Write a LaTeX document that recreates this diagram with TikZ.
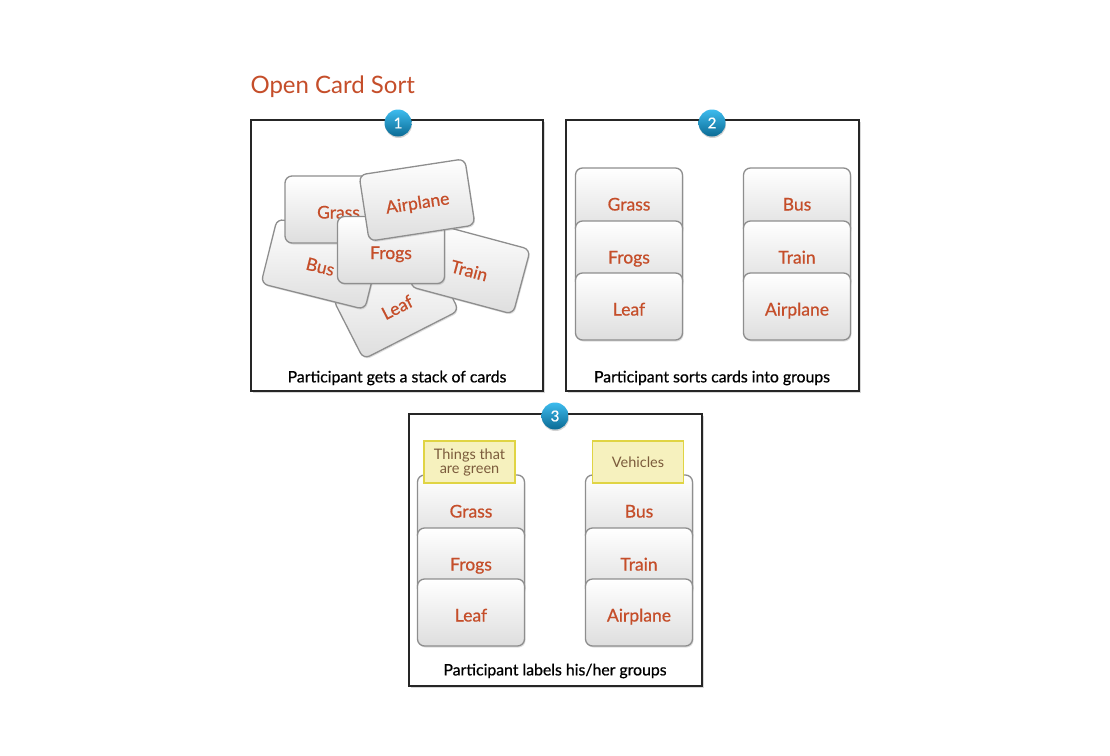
\documentclass[tikz,border=0pt]{standalone}
\usepackage{fontspec}
\setmainfont{Lato}
\newfontfamily\cardfont{Lato}[FakeBold=0.7]
\usetikzlibrary{shadows}
\definecolor{cardred}{HTML}{C54E2A}
\definecolor{cardline}{HTML}{8E8E8E}
\definecolor{notefill}{HTML}{F6F1BE}
\definecolor{noteline}{HTML}{E0D444}
\definecolor{notetext}{HTML}{7B5B3C}
\definecolor{badgetop}{HTML}{3DBBEE}
\definecolor{badgebottom}{HTML}{0B6A94}

\begin{document}
\begin{tikzpicture}[x=1pt,y=-1pt,
    card/.style={rectangle,rounded corners=7pt,draw=cardline,line width=1.3pt,
      top color=white,bottom color=black!13,minimum width=107pt,minimum height=67pt,
      text height=18pt,text depth=0pt,
      text=cardred,font=\cardfont\fontsize{17.5}{20}\selectfont,
      drop shadow={opacity=0.25,shadow xshift=1pt,shadow yshift=-1.5pt}},
    panel/.style={rectangle,draw=black!85,line width=1.6pt,fill=white,
      drop shadow={opacity=0.3,shadow xshift=1.5pt,shadow yshift=-1.5pt}},
    badge/.style={circle,top color=badgetop,bottom color=badgebottom,minimum size=27pt,inner sep=0pt,
      text=white,font=\cardfont\fontsize{15}{17}\selectfont,
      drop shadow={opacity=0.35,shadow xshift=0.5pt,shadow yshift=-1.5pt}},
    caption/.style={font=\cardfont\fontsize{15.8}{18}\selectfont},
    note/.style={rectangle,draw=noteline,fill=notefill,line width=1.2pt,minimum width=91pt,
      minimum height=42pt,inner sep=2pt,text=notetext,align=center,
      font=\fontsize{14.5}{14}\selectfont}]
    \useasboundingbox[fill=white] (0,0) rectangle (1110,755);

    \node[anchor=west,text=cardred,font=\fontsize{24}{28}\selectfont] (title) at (247,87) {Open Card Sort};

    \node[panel,minimum width=292pt,minimum height=271pt] (stepA) at (397,255.5) {};
    \node[panel,minimum width=293pt,minimum height=271pt] (stepB) at (712.5,255.5) {};
    \node[panel,minimum width=293pt,minimum height=272pt] (stepC) at (555.5,550) {};

    \node[badge] (badgeA) at (398,123) {1};
    \node[badge] (badgeB) at (712,123) {2};
    \node[badge] (badgeC) at (555,416) {3};

    \node[card,rotate=27] (leafA) at (396,305) {Leaf};
    \node[card,rotate=-15] (trainA) at (470,268) {Train};
    \node[card,rotate=-14] (busA) at (321,264) {Bus};
    \node[card] (grassA) at (338.5,209.5) {Grass};
    \node[card] (frogsA) at (391,250) {Frogs};
    \node[card,rotate=8.7] (airplaneA) at (417,200) {Airplane};
    \node[caption] (captionA) at (397,378) {Participant gets a stack of cards};

    \node[card] (grassB) at (629,201.5) {Grass};
    \node[card] (frogsB) at (629,254.5) {Frogs};
    \node[card] (leafB) at (629,306.5) {Leaf};
    \node[card] (busB) at (797,201.5) {Bus};
    \node[card] (trainB) at (797,254.5) {Train};
    \node[card] (airplaneB) at (797,306.5) {Airplane};
    \node[caption] (captionB) at (712,378) {Participant sorts cards into groups};

    \node[card] (grassC) at (471,508.5) {Grass};
    \node[card] (frogsC) at (471,561.5) {Frogs};
    \node[card] (leafC) at (471,612.5) {Leaf};
    \node[card] (busC) at (639,508.5) {Bus};
    \node[card] (trainC) at (639,561.5) {Train};
    \node[card] (airplaneC) at (639,612.5) {Airplane};
    \node[note] (greenNote) at (469.5,462) {Things that\\are green};
    \node[note] (vehicleNote) at (638,462) {Vehicles};
    \node[caption] (captionC) at (555,671) {Participant labels his/her groups};
\end{tikzpicture}
\end{document}
